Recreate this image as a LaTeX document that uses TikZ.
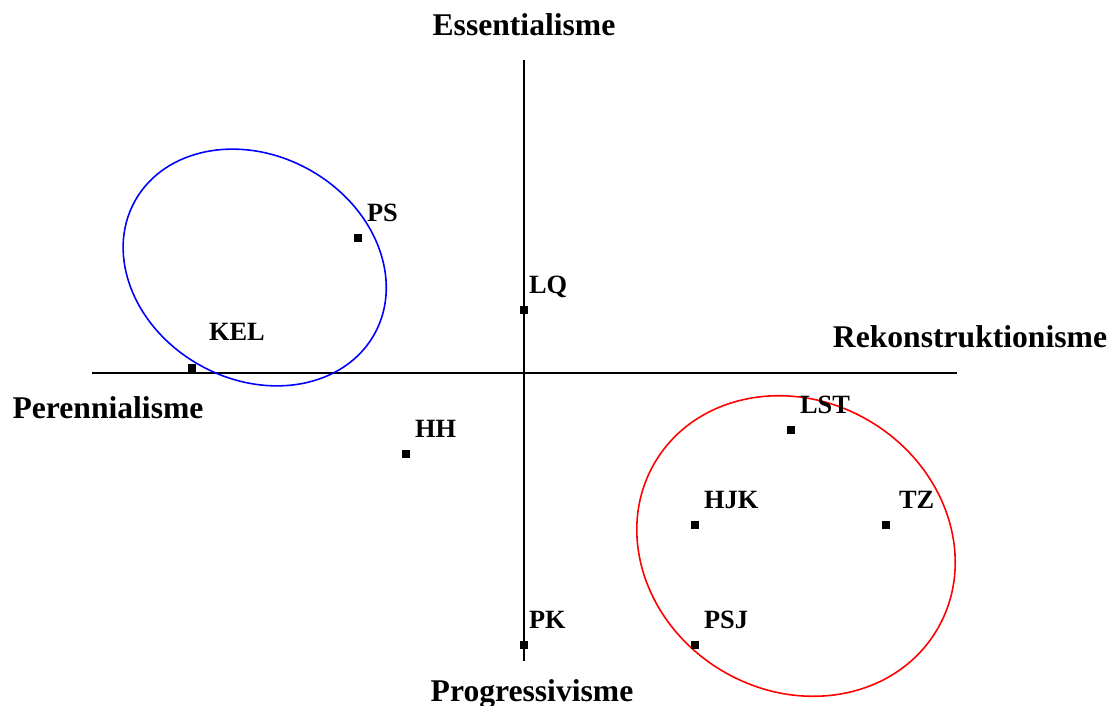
\documentclass[tikz,border=0pt]{standalone}
\usepackage{fontspec}
\setmainfont{Liberation Serif}
\usepackage{tikz}
\usetikzlibrary{
  positioning
}

\begin{document}
\begin{tikzpicture}[
  x=0.02cm, y=-0.02cm,
  node distance=6.5pt and 2.3pt,
  dot/.style={fill, inner sep=0pt, minimum size=5pt},
  tag/.style={font=\fontsize{15}{15}\selectfont\bfseries, inner sep=0pt, text depth=0pt},
  pole/.style={font=\fontsize{18}{18}\selectfont\bfseries, inner sep=0pt, anchor=base},
  axis/.style={line width=1.2pt},
  ring/.style={line width=0.9pt}
]
\useasboundingbox (0,0) rectangle (1112,706);

% Axes
\coordinate (yt) at (524,60);
\coordinate (yb) at (524,661);
\coordinate (xl) at (92,373);
\coordinate (xr) at (957,373);
\draw[axis] (yt) -- (yb);
\draw[axis] (xl) -- (xr);

% Poles
\node[pole] (ess) at (524,36) {Essentialisme};
\node[pole] (rek) at (970,347) {Rekonstruktionisme};
\node[pole] (per) at (108,418) {Perennialisme};
\node[pole] (pro) at (532,701) {Progressivisme};

% Clusters
\draw[ring, blue] (254.7,267.5) ellipse [x radius=137, y radius=112, rotate=-29];
\draw[ring, red] (796,546) ellipse [x radius=164, y radius=145, rotate=-31];

% Points
\node[dot] (ps) at (358,238) {};
\node[dot] (lq) at (524,310) {};
\node[dot] (kel) at (192,368) {};
\node[dot] (hh) at (406,454) {};
\node[dot] (lst) at (791,430) {};
\node[dot] (hjk) at (695,525) {};
\node[dot] (tz) at (886,525) {};
\node[dot] (pk) at (524,645) {};
\node[dot] (psj) at (695,645) {};

% Labels
\node[tag, above right=of ps] (psl) {PS};
\node[tag, above right=6.5pt and 0pt of lq] (lql) {LQ};
\node[tag, above right=12.5pt and 6.8pt of kel] (kell) {KEL};
\node[tag, above right=of hh] (hhl) {HH};
\node[tag, above right=of lst] (lstl) {LST};
\node[tag, above right=of hjk] (hjkl) {HJK};
\node[tag, above right=6.5pt and 4.5pt of tz] (tzl) {TZ};
\node[tag, above right=6.5pt and 0pt of pk] (pkl) {PK};
\node[tag, above right=of psj] (psjl) {PSJ};

\end{tikzpicture}
\end{document}
